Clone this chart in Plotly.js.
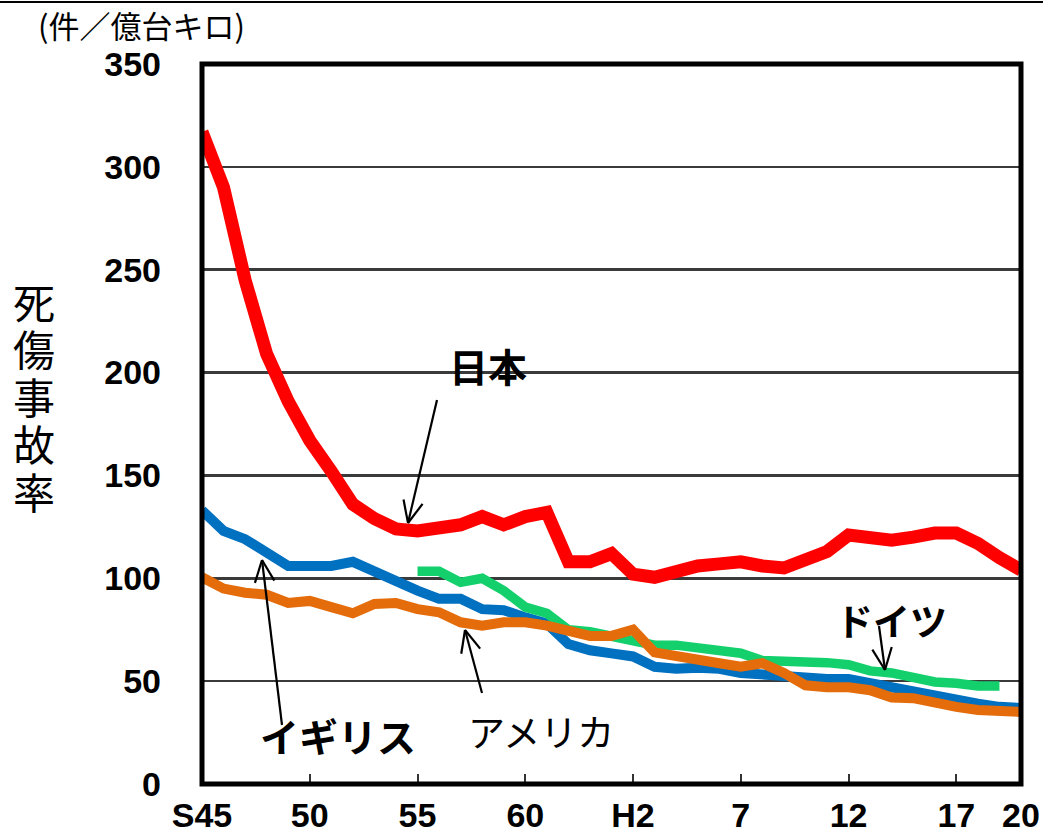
<!DOCTYPE html>
<html>
<head>
<meta charset="utf-8">
<script src="https://cdn.plot.ly/plotly-3.0.1.min.js"></script>
<style>
  html, body { margin: 0; padding: 0; background: #fff; }
  #chart { width: 1043px; height: 840px; }
</style>
</head>
<body>
<div id="chart"></div>
<script>
// Fiscal years 1970 (S45) to 2008 (H20)
const years = [];
for (let y = 1970; y <= 2008; y++) years.push(y);

// Injury-accident rate (cases per 100 million vehicle-km)
const japan = [317, 290, 245, 209, 186, 167, 152, 136, 129, 124,
               123, 124, 126, 130, 126, 130, 132, 108, 108, 112,
               102, 100.5, 104, 106, 107, 108, 106, 105, 109, 113,
               121, 119.5, 118.5, 120, 122, 122, 117, 110, 104];
const uk = [133, 123, 119, 113, 106, 106, 106, 108, 103, 99,
            94, 90, 90, 85, 84.5, 81, 78, 68, 65, 63.5,
            62, 57, 56, 56.5, 56, 54, 53, 52, 51.5, 51,
            51, 49, 46.6, 45, 42, 40.7, 39, 37.5, 37];
const usa = [100.5, 95, 93, 92, 88, 89, 86, 83, 87.5, 88,
             85, 83.5, 78.6, 77, 78.6, 78.6, 77, 74, 72, 72,
             75, 64, 62.6, 61, 58.7, 57, 58.7, 54, 48, 47,
             47, 45.6, 42, 41.7, 39, 37.5, 36, 35, 35];
const germany = [null, null, null, null, null, null, null, null, null, null,
                 103.4, 103.4, 98, 100, 94, 86, 83, 75, 74, 72,
                 69, 67.5, 67.5, 66, 65, 63.6, 60, 60, 59, 59,
                 58, 55, 54, 52, 49.6, 49, 47.6, 47.6, null];

// Axis ticks
const xTickVals = [1970, 1975, 1980, 1985, 1990, 1995, 2000, 2005, 2008];
const xTickText = ['S45', '50', '55', '60', 'H2', '7', '12', '17', '20'];
const yTickVals = [0, 50, 100, 150, 200, 250, 300, 350];

// Vertical axis title, one character per row
const yTitleChars = ['死', '傷', '事', '故', '率'];

// Plot-area geometry in page pixels
const W = 1043, H = 840;
const L = 202, R = 1021, T = 64, B = 784;
const px = x => (x - L) / (R - L);
const py = y => (B - y) / (B - T);

const traces = [
  { name: '日本', y: japan, color: '#FF0000', width: 13 },
  { name: 'イギリス', y: uk, color: '#0070C0', width: 10 },
  { name: 'ドイツ', y: germany, color: '#14D06C', width: 9.5 },
  { name: 'アメリカ', y: usa, color: '#E46C0A', width: 10 }
].map(s => ({
  type: 'scatter', mode: 'lines', name: s.name,
  x: years, y: s.y,
  line: { color: s.color, width: s.width },
  connectgaps: false, hoverinfo: 'x+y'
}));

// Open-headed pointer arrows, built from line shapes (tail -> head, pixels)
function arrow(x1, y1, x2, y2) {
  const st = { color: '#000', width: 2.2 };
  const out = [{ type: 'line', xref: 'paper', yref: 'paper', layer: 'above',
                 x0: px(x1), y0: py(y1), x1: px(x2), y1: py(y2), line: st }];
  const dx = x1 - x2, dy = y1 - y2, len = Math.hypot(dx, dy);
  const ux = dx / len, uy = dy / len, hl = 24, a = 0.42;
  [a, -a].forEach(t => {
    const c = Math.cos(t), s = Math.sin(t);
    const hx = x2 + hl * (ux * c - uy * s), hy = y2 + hl * (ux * s + uy * c);
    out.push({ type: 'line', xref: 'paper', yref: 'paper', layer: 'above',
               x0: px(x2), y0: py(y2), x1: px(hx), y1: py(hy), line: st });
  });
  return out;
}

const shapes = [
  // frame round the plot area
  { type: 'rect', xref: 'paper', yref: 'paper', layer: 'above',
    x0: 0, y0: 0, x1: 1, y1: 1, line: { color: '#000', width: 5 } },
  // thin rule at the top of the page
  { type: 'line', xref: 'paper', yref: 'paper', layer: 'above',
    x0: px(0), x1: px(W), y0: py(2), y1: py(2), line: { color: '#000', width: 2 } },
  ...arrow(437, 400, 408, 523),
  ...arrow(282, 725, 262, 560),
  ...arrow(482, 693, 465, 630),
  ...arrow(879, 626, 885, 670)
];

const cjk = '"Noto Sans CJK JP", "Noto Sans", sans-serif';
function label(text, x, y, size, weight, family) {
  return { text, xref: 'paper', yref: 'paper', x: px(x), y: py(y),
           xanchor: 'center', yanchor: 'middle', showarrow: false,
           font: { family: family || cjk, size, color: '#000', weight: weight || 'normal' } };
}

const titleFamily = '"Liberation Sans", "Noto Sans CJK JP", sans-serif';
const annotations = [
  label('(件／億台キロ)', 141, 25, 31),
  ...yTitleChars.map((ch, i) => label(ch, 34, 304 + i * 47.5, 42, 'normal', titleFamily)),
  label('日本', 488, 365, 39, 'bold'),
  label('イギリス', 338, 735, 39, 'bold'),
  label('アメリカ', 541, 731, 37),
  label('ドイツ', 891, 620, 37, 'bold')
];

const tickFont = { family: '"Liberation Sans Narrow", "Liberation Sans", Arial, sans-serif',
                   size: 34, color: '#000', weight: 'bold' };

const layout = {
  width: W, height: H,
  margin: { l: L, r: W - R, t: T, b: H - B, pad: 0 },
  paper_bgcolor: '#fff', plot_bgcolor: '#fff',
  showlegend: false,
  xaxis: {
    range: [1970, 2008], tickvals: xTickVals, ticktext: xTickText,
    ticks: 'inside', ticklen: 10, tickwidth: 2, tickcolor: '#333',
    ticklabelstandoff: 8,
    showgrid: false, zeroline: false, showline: false,
    tickfont: tickFont, fixedrange: true
  },
  yaxis: {
    range: [0, 350], tickvals: yTickVals,
    ticks: '', ticklabelstandoff: 40,
    showgrid: true, gridcolor: '#3a3a3a', gridwidth: 2.5,
    zeroline: false, showline: false,
    tickfont: tickFont, fixedrange: true
  },
  shapes, annotations
};

Plotly.newPlot('chart', traces, layout, { displayModeBar: false, staticPlot: true });
</script>
</body>
</html>
